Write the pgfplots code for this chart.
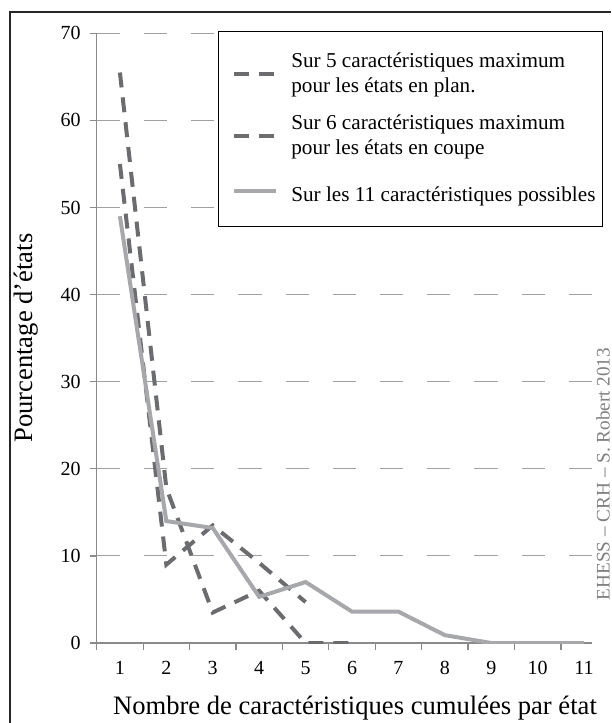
\documentclass[border=0pt]{standalone}
\usepackage{fontspec}
\setmainfont{Liberation Serif}
\usepackage{pgfplots}
\pgfplotsset{compat=1.18}
\definecolor{dashgray}{HTML}{6B6C6F}
\definecolor{solidgray}{HTML}{A7A8AB}
\definecolor{gridgray}{HTML}{A0A0A0}
\definecolor{axisgray}{HTML}{8A8A8A}

\begin{document}
\begin{tikzpicture}
  \begin{axis}[
      scale only axis,
      width=247.65pt,
      height=304.85pt,
      xmin=0.5, xmax=11.17,
      ymin=0, ymax=70,
      axis lines=left,
      axis line style={draw=axisgray, line width=0.6pt, -},
      xtick={1,...,11},
      xticklabels={1,2,3,4,5,6,7,8,9,10,11},
      minor xtick={0.5,1.5,...,10.5},
      ytick={0,10,...,70},
      yticklabels={0,10,20,30,40,50,60,70},
      tick align=outside,
      major tick length=3.5pt,
      minor tick length=3.5pt,
      major x tick style={draw=none},
      minor x tick style={draw=axisgray, line width=0.6pt},
      ytick style={draw=axisgray, line width=0.6pt},
      ymajorgrids=true,
      grid style={draw=gridgray, line width=0.5pt, dash pattern=on 11.6pt off 12pt},
      tick label style={font=\fontsize{10}{12}\selectfont, black},
      xticklabel style={yshift=-2pt},
      yticklabel style={xshift=-1pt},
      label style={font=\fontsize{13.3}{15}\selectfont},
      xlabel={Nombre de caractéristiques cumulées par état},
      ylabel={Pourcentage d’états},
      xlabel style={at={(axis description cs:0.5,0)}, anchor=center, yshift=-32.5pt, xshift=5.3pt},
      ylabel style={at={(axis description cs:-0.1425,0.5)}, anchor=center},
      legend cell align=left,
      legend style={
        at={(rel axis cs:1,1)}, anchor=north east, xshift=5.5pt, yshift=1.3pt,
        draw=black, line width=0.5pt,
        inner xsep=3.5pt, inner ysep=10.75pt,
        column sep=6.7pt, row sep=10pt,
        nodes={inner sep=0pt, align=left, font=\fontsize{10.6}{12.3}\selectfont},
      },
      legend image code/.code={\path (0pt,0pt); \draw[#1] (3.6pt,0pt) -- (24.4pt,0pt);},
    ]
    \addplot[dashgray, line width=2pt, dash pattern=on 7.5pt off 5pt] coordinates {
      (1,55) (2,9) (3,13.5) (4,9.2) (5,4.7)
    };
    \addlegendentry{Sur 5 caractéristiques maximum\\pour les états en plan.}
    \addplot[dashgray, line width=2pt, dash pattern=on 7.5pt off 5pt] coordinates {
      (1,65.5) (2,17.8) (3,3.5) (4,6) (5,0) (6,0)
    };
    \addlegendentry{Sur 6 caractéristiques maximum\\pour les états en coupe}
    \addplot[solidgray, line width=2pt] coordinates {
      (1,49) (2,14) (3,13.2) (4,5.3) (5,7) (6,3.6) (7,3.6) (8,0.9) (9,0) (10,0) (11,0)
    };
    \addlegendentry{\rule[-6.9pt]{0pt}{19pt}Sur les 11 caractéristiques possibles}
  \end{axis}
  \node[rotate=90, text=gray, font=\fontsize{9.6}{11}\selectfont] at (253.15pt,84.5pt) {EHESS – CRH – S. Robert 2013};
  \draw[black!85, line width=0.8pt] (-43.35pt,-40pt) -- (-43.35pt,315.5pt) -- (257.15pt,315.5pt);
  \pgfresetboundingbox
  \useasboundingbox (-48.35pt,-40pt) rectangle (257.15pt,321.5pt);
\end{tikzpicture}
\end{document}
